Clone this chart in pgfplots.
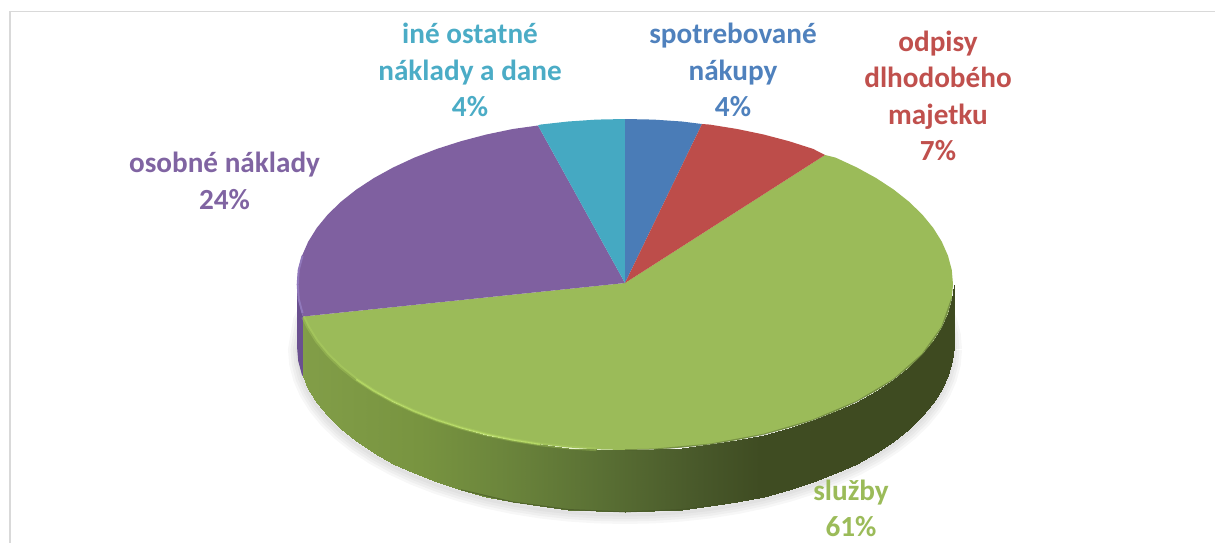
\documentclass[border=0pt]{standalone}
\usepackage{fontspec}
\setmainfont{Carlito}
\usepackage{pgfplots}
\usepackage{pgfplotstable}
\pgfplotsset{compat=1.18}
\definecolor{cgreen}{HTML}{9BBB59}
\definecolor{cred}{HTML}{BD4D4A}
\definecolor{cblue}{HTML}{4A7CB7}
\definecolor{cpurple}{HTML}{7F60A0}
\definecolor{cteal}{HTML}{45A9C2}
\definecolor{lblue}{HTML}{4F81BD}
\definecolor{lred}{HTML}{C0504D}
\definecolor{lpurple}{HTML}{8064A2}
\definecolor{lteal}{HTML}{4BACC6}
\definecolor{sidepurple}{HTML}{6A5090}
\definecolor{hlgreen}{HTML}{B8DC66}
\definecolor{hlpurple}{HTML}{9078BB}
\definecolor{edgegreen}{HTML}{5F7535}
\pgfplotstableread{
x y yb
953 284.5 346.5
951.8 270.1 332.1
948 255.8 317.8
941.8 241.7 303.7
933.2 227.9 289.9
909 201.7 263.7
876.2 178.1 240.1
835.8 157.7 219.7
789 141.2 203.2
737.2 129 191
681.9 121.5 183.5
625 119 181
568.1 121.5 183.5
512.8 129 191
461 141.2 203.2
414.2 157.7 219.7
373.8 178.1 240.1
341 201.7 263.7
316.8 227.9 289.9
302 255.8 317.8
297 284.5 346.5
298.2 298.9 360.9
302 313.2 375.2
308.2 327.3 389.3
316.8 341.1 403.1
327.7 354.4 416.4
341 367.3 429.3
356.3 379.4 441.4
373.8 390.9 452.9
393.1 401.5 463.5
414.2 411.3 473.3
436.9 420.1 482.1
461 427.8 489.8
486.4 434.5 496.5
512.8 440 502
540.1 444.4 506.4
568.1 447.5 509.5
596.4 449.4 511.4
625 450 512
653.6 449.4 511.4
681.9 447.5 509.5
709.9 444.4 506.4
737.2 440 502
763.6 434.5 496.5
789 427.8 489.8
813.1 420.1 482.1
835.8 411.3 473.3
856.9 401.5 463.5
876.2 390.9 452.9
893.7 379.4 441.4
909 367.3 429.3
922.3 354.4 416.4
933.2 341.1 403.1
941.8 327.3 389.3
948 313.2 375.2
951.8 298.9 360.9
953 284.5 346.5
}\outline
\pgfplotstableread{
x y c
303 316.5 303
308.2 327.3 308.2
316.8 341.1 316.8
327.7 354.4 327.7
341 367.3 341
356.3 379.4 356.3
373.8 390.9 373.8
393.1 401.5 393.1
414.2 411.3 414.2
436.9 420.1 436.9
461 427.8 461
486.4 434.5 486.4
512.8 440 512.8
540.1 444.4 540.1
568.1 447.5 568.1
596.4 449.4 596.4
625 450 625
653.6 449.4 653.6
681.9 447.5 681.9
709.9 444.4 709.9
737.2 440 737.2
763.6 434.5 763.6
789 427.8 789
813.1 420.1 813.1
835.8 411.3 835.8
856.9 401.5 856.9
876.2 390.9 876.2
893.7 379.4 893.7
909 367.3 909
922.3 354.4 922.3
933.2 341.1 933.2
941.8 327.3 941.8
948 313.2 948
951.8 298.9 951.8
954 284.5 954
303 376 303
308.2 389.3 308.2
316.8 403.1 316.8
327.7 416.4 327.7
341 429.3 341
356.3 441.4 356.3
373.8 452.9 373.8
393.1 463.5 393.1
414.2 473.3 414.2
436.9 482.1 436.9
461 489.8 461
486.4 496.5 486.4
512.8 502 512.8
540.1 506.4 540.1
568.1 509.5 568.1
596.4 511.4 596.4
625 512 625
653.6 511.4 653.6
681.9 509.5 681.9
709.9 506.4 709.9
737.2 502 737.2
763.6 496.5 763.6
789 489.8 789
813.1 482.1 813.1
835.8 473.3 835.8
856.9 463.5 856.9
876.2 452.9 876.2
893.7 441.4 893.7
909 429.3 909
922.3 416.4 922.3
933.2 403.1 933.2
941.8 389.3 941.8
948 375.2 948
951.8 360.9 951.8
954 346.5 954
}\rim
\begin{document}
\begin{tikzpicture}
\begin{axis}[
  scale only axis, width=1215pt, height=543pt,
  xmin=0, xmax=1215, ymin=0, ymax=543, y dir=reverse,
  hide axis, clip=true,
  colormap={sidegreen}{rgb255(300pt)=(130,158,72) rgb255(420pt)=(120,148,64) rgb255(500pt)=(108,134,60) rgb255(600pt)=(90,112,52) rgb255(700pt)=(72,88,42) rgb255(760pt)=(63,76,34) rgb255(960pt)=(62,74,32)},
]
% page extent
\addplot[draw=none, forget plot] coordinates {(0,0) (1215,543)};
% frame
\addplot[draw=black!15, line width=1.5pt, forget plot] coordinates {(10,543) (10,11.5) (1215,11.5)};
% soft shadow
\addplot[draw=black, opacity=.03, line width=18pt, yshift=-3pt, forget plot] table[x=x,y=yb] {\outline};
\addplot[draw=black, opacity=.03, line width=13pt, yshift=-3pt, forget plot] table[x=x,y=yb] {\outline};
\addplot[draw=black, opacity=.03, line width=8pt, yshift=-3pt, forget plot] table[x=x,y=yb] {\outline};
\addplot[draw=black, opacity=.03, line width=3pt, yshift=-3pt, forget plot] table[x=x,y=yb] {\outline};
% purple side
\addplot[fill=sidepurple, draw=none, forget plot] coordinates {(297,284.5) (297,346.5) (298.2,360.9) (302,375.2) (303,376) (303,316.5) (298.2,298.9) (297,284.5)};
% green side
\addplot[surf, shader=interp, mesh/rows=2, mesh/cols=35, point meta=explicit, point meta min=300, point meta max=960, forget plot] table[x=x,y=y,meta=c] {\rim};
\addplot[draw=edgegreen!70!black, line width=1pt, forget plot, opacity=.6] coordinates {(461,489.8) (512.8,502) (568.1,509.5) (625,512) (681.9,509.5) (737.2,502)};
% top faces
\addplot[fill=cgreen, draw=none, forget plot] coordinates {(625,283) (825,155) (835.8,157.7) (856.9,167.5) (876.2,178.1) (893.7,189.6) (909,201.7) (922.3,214.6) (933.2,227.9) (941.8,241.7) (948,255.8) (951.8,270.1) (953,284.5) (951.8,298.9) (948,313.2) (941.8,327.3) (933.2,341.1) (922.3,354.4) (909,367.3) (893.7,379.4) (876.2,390.9) (856.9,401.5) (835.8,411.3) (813.1,420.1) (789,427.8) (763.6,434.5) (737.2,440) (709.9,444.4) (681.9,447.5) (653.6,449.4) (625,450) (596.4,449.4) (568.1,447.5) (540.1,444.4) (512.8,440) (486.4,434.5) (461,427.8) (436.9,420.1) (414.2,411.3) (393.1,401.5) (373.8,390.9) (356.3,379.4) (341,367.3) (327.7,354.4) (316.8,341.1) (308.2,327.3) (303,316.5) (625,283)};
\addplot[fill=cpurple, draw=none, forget plot] coordinates {(625,283) (303,316.5) (302,313.2) (298.2,298.9) (297,284.5) (298.2,270.1) (302,255.8) (308.2,241.7) (316.8,227.9) (327.7,214.6) (341,201.7) (356.3,189.6) (373.8,178.1) (393.1,167.5) (414.2,157.7) (436.9,148.9) (461,141.2) (486.4,134.5) (512.8,129) (538,125.5) (625,283)};
\addplot[fill=cteal, draw=none, forget plot] coordinates {(625,283) (538,125.5) (540.1,124.6) (568.1,121.5) (596.4,119.6) (625,119) (625,283)};
\addplot[fill=cblue, draw=none, forget plot] coordinates {(625,283) (625,119) (653.6,119.6) (681.9,121.5) (702,124) (625,283)};
\addplot[fill=cred, draw=none, forget plot] coordinates {(625,283) (702,124) (709.9,124.6) (737.2,129) (763.6,134.5) (789,141.2) (813.1,148.9) (825,155) (625,283)};
% rim highlights
\addplot[draw=hlgreen, line width=3.6pt, opacity=.3, forget plot] coordinates {(303,317) (308.2,327.3) (316.8,341.1) (327.7,354.4) (341,367.3) (356.3,379.4) (373.8,390.9) (393.1,401.5) (414.2,411.3) (436.9,420.1) (461,427.8) (486.4,434.5) (512.8,440) (540.1,444.4) (568.1,447.5) (596.4,449.4)};
\addplot[draw=hlgreen, line width=1.6pt, opacity=.8, forget plot] coordinates {(356.3,379.4) (373.8,390.9) (393.1,401.5) (414.2,411.3) (436.9,420.1) (461,427.8) (486.4,434.5) (512.8,440) (540.1,444.4)};
\addplot[draw=hlpurple, line width=2pt, forget plot] coordinates {(302.5,255.8) (298.7,270.1) (297.7,284.5) (298.7,298.9) (302.5,313.2)};
\addplot[draw=black!50!cgreen, line width=1.5pt, opacity=.45, forget plot] coordinates {(625,450) (653.6,449.4) (709.9,444.4) (763.6,434.5) (813.1,420.1) (856.9,401.5) (893.7,379.4) (922.3,354.4) (941.8,327.3) (951.8,298.9)};
% labels
\tikzset{lab/.style={font=\fontsize{29.2}{36.5}\selectfont\bfseries, align=center, inner sep=0pt, opacity=1}}
\node[lab, text=lteal] at (axis cs:470,70) {iné ostatné\\náklady a dane\\4\%};
\node[lab, text=lblue] at (axis cs:733,70) {spotrebované\\nákupy\\4\%};
\node[lab, text=lred] at (axis cs:938,96) {odpisy\\dlhodobého\\majetku\\7\%};
\node[lab, text=lpurple] at (axis cs:224.5,181) {osobné náklady\\24\%};
\node[lab, text=cgreen] at (axis cs:851,508.5) {služby\\61\%};
\end{axis}
\end{tikzpicture}
\end{document}
